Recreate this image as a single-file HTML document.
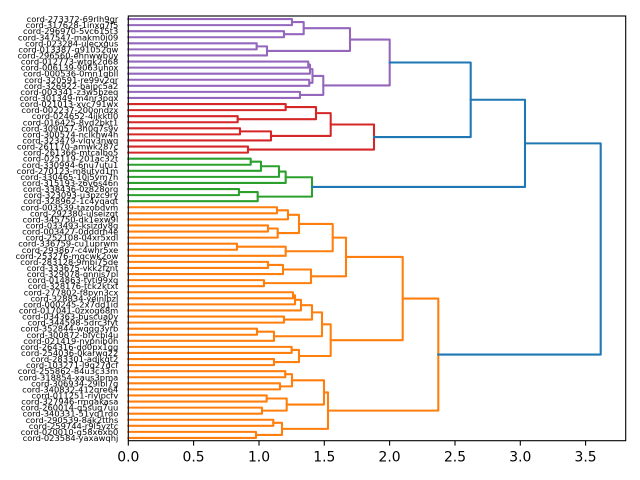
<!DOCTYPE html>
<html>
<head>
<meta charset="utf-8">
<style>
html,body{margin:0;padding:0;background:#fff;}
svg{display:block;}
.lbl{font-family:"DejaVu Sans","Liberation Sans",sans-serif;font-size:8.33px;fill:#000;text-anchor:end;}
.tk{font-family:"DejaVu Sans","Liberation Sans",sans-serif;font-size:13.9px;fill:#000;text-anchor:middle;}
.ln{fill:none;stroke-width:2.08;stroke-linejoin:round;stroke-linecap:square;}
</style>
</head>
<body>
<svg width="640" height="480" viewBox="0 0 640 480" xmlns="http://www.w3.org/2000/svg">
<rect x="0" y="0" width="640" height="480" fill="#fff"/>

<!-- purple -->
<g class="ln" stroke="#9467bd">
<path d="M128.3 19.04 H292 V25.11 H128.3"/>
<path d="M128.3 31.18 H284 V37.25 H128.3"/>
<path d="M292 22.08 H303.7 V34.22 H284"/>
<path d="M128.3 43.32 H256.7 V49.39 H128.3"/>
<path d="M256.7 46.36 H267 V55.46 H128.3"/>
<path d="M303.7 28.15 H350 V50.91 H267"/>
<path d="M128.3 61.54 H308.3 V67.61 H128.3"/>
<path d="M308.3 64.57 H310 V73.68 H128.3"/>
<path d="M128.3 79.75 H309.3 V85.82 H128.3"/>
<path d="M310 69.13 H312.5 V82.79 H309.3"/>
<path d="M128.3 91.89 H300 V97.96 H128.3"/>
<path d="M312.5 75.96 H323.3 V94.93 H300"/>
<path d="M350 39.53 H389.7 V85.44 H323.3"/>
</g>

<!-- red -->
<g class="ln" stroke="#d62728">
<path d="M128.3 104.04 H285.7 V110.11 H128.3"/>
<path d="M128.3 116.18 H237.7 V122.25 H128.3"/>
<path d="M285.7 107.07 H316 V119.21 H237.7"/>
<path d="M128.3 128.32 H240 V134.39 H128.3"/>
<path d="M240 131.36 H271 V140.46 H128.3"/>
<path d="M316 113.14 H330.7 V135.91 H271"/>
<path d="M128.3 146.54 H248 V152.61 H128.3"/>
<path d="M330.7 124.52 H374 V149.57 H248"/>
</g>

<!-- green -->
<g class="ln" stroke="#2ca02c">
<path d="M128.3 158.68 H250.7 V164.75 H128.3"/>
<path d="M250.7 161.71 H261 V170.82 H128.3"/>
<path d="M261 166.27 H279 V176.89 H128.3"/>
<path d="M279 171.58 H285.7 V182.96 H128.3"/>
<path d="M128.3 189.04 H239 V195.11 H128.3"/>
<path d="M239 192.07 H257.7 V201.18 H128.3"/>
<path d="M285.7 177.27 H312 V196.63 H257.7"/>
</g>

<!-- orange -->
<g class="ln" stroke="#ff7f0e">
<path d="M128.3 207.25 H277 V213.32 H128.3"/>
<path d="M277 210.29 H288 V219.39 H128.3"/>
<path d="M128.3 225.46 H268 V231.54 H128.3"/>
<path d="M268 228.5 H277.7 V237.61 H128.3"/>
<path d="M288 214.84 H299 V233.05 H277.7"/>
<path d="M128.3 243.68 H237 V249.75 H128.3"/>
<path d="M237 246.71 H285.7 V255.82 H128.3"/>
<path d="M299 223.95 H332.7 V251.27 H285.7"/>
<path d="M128.3 261.89 H268 V267.96 H128.3"/>
<path d="M268 264.93 H283 V274.04 H128.3"/>
<path d="M128.3 280.11 H264 V286.18 H128.3"/>
<path d="M283 269.48 H311 V283.14 H264"/>
<path d="M332.7 237.61 H346 V276.31 H311"/>
<path d="M128.3 292.25 H293 V298.32 H128.3"/>
<path d="M293 295.29 H295 V304.39 H128.3"/>
<path d="M295 299.84 H301 V310.46 H128.3"/>
<path d="M128.3 316.54 H284 V322.61 H128.3"/>
<path d="M301 305.15 H312 V319.57 H284"/>
<path d="M128.3 328.68 H257 V334.75 H128.3"/>
<path d="M257 331.71 H274 V340.82 H128.3"/>
<path d="M312 312.36 H322 V336.27 H274"/>
<path d="M128.3 346.89 H291.7 V352.96 H128.3"/>
<path d="M128.3 359.04 H274 V365.11 H128.3"/>
<path d="M291.7 349.93 H299 V362.07 H274"/>
<path d="M322 324.31 H330.7 V356 H299"/>
<path d="M346 256.96 H402.7 V340.16 H330.7"/>
<path d="M128.3 371.18 H285.3 V377.25 H128.3"/>
<path d="M128.3 383.32 H280 V389.39 H128.3"/>
<path d="M285.3 374.21 H292 V386.36 H280"/>
<path d="M128.3 395.46 H266.7 V401.54 H128.3"/>
<path d="M128.3 407.61 H262 V413.68 H128.3"/>
<path d="M266.7 398.5 H286.7 V410.64 H262"/>
<path d="M292 380.29 H324 V404.57 H286.7"/>
<path d="M128.3 419.75 H273.3 V425.82 H128.3"/>
<path d="M128.3 431.89 H256 V437.96 H128.3"/>
<path d="M273.3 422.79 H282 V434.93 H256"/>
<path d="M324 392.43 H328 V428.86 H282"/>
<path d="M402.7 298.56 H438.3 V410.64 H328"/>
</g>

<!-- blue -->
<g class="ln" stroke="#1f77b4">
<path d="M389.7 62.49 H470.7 V137.05 H374"/>
<path d="M470.7 99.77 H525 V186.95 H312"/>
<path d="M525 143.36 H600.7 V354.6 H438.3"/>
</g>

<!-- axes frame -->
<rect x="128.3" y="16" width="497.4" height="424.7" fill="none" stroke="#000" stroke-width="1.1"/>

<!-- x ticks -->
<g stroke="#000" stroke-width="1.1">
<line x1="128.3" y1="440.7" x2="128.3" y2="445.6"/>
<line x1="193.6" y1="440.7" x2="193.6" y2="445.6"/>
<line x1="259" y1="440.7" x2="259" y2="445.6"/>
<line x1="324.3" y1="440.7" x2="324.3" y2="445.6"/>
<line x1="389.6" y1="440.7" x2="389.6" y2="445.6"/>
<line x1="455" y1="440.7" x2="455" y2="445.6"/>
<line x1="520.3" y1="440.7" x2="520.3" y2="445.6"/>
<line x1="585.6" y1="440.7" x2="585.6" y2="445.6"/>
</g>
<g class="tk">
<text x="128.3" y="461.5">0.0</text>
<text x="193.6" y="461.5">0.5</text>
<text x="259" y="461.5">1.0</text>
<text x="324.3" y="461.5">1.5</text>
<text x="389.6" y="461.5">2.0</text>
<text x="455" y="461.5">2.5</text>
<text x="520.3" y="461.5">3.0</text>
<text x="585.6" y="461.5">3.5</text>
</g>

<!-- leaf labels -->
<g class="lbl">
<text x="118.3" y="22.04">cord-273372-69rlh9gr</text>
<text x="118.3" y="28.11">cord-317628-1inxq7f5</text>
<text x="118.3" y="34.18">cord-296970-5vc615t3</text>
<text x="118.3" y="40.25">cord-347547-makm0j09</text>
<text x="118.3" y="46.32">cord-023284-ulecxgus</text>
<text x="118.3" y="52.39">cord-013387-g91052qw</text>
<text x="118.3" y="58.46">cord-296560-ehnwwbuy</text>
<text x="118.3" y="64.54">cord-012773-wtgk2d68</text>
<text x="118.3" y="70.61">cord-006139-9063uhox</text>
<text x="118.3" y="76.68">cord-000536-0mn1gbll</text>
<text x="118.3" y="82.75">cord-320591-re99v2qr</text>
<text x="118.3" y="88.82">cord-326922-bajpc5a2</text>
<text x="118.3" y="94.89">cord-003341-z3w5bzeq</text>
<text x="118.3" y="100.96">cord-301349-m4nr3pqx</text>
<text x="118.3" y="107.04">cord-021013-xvc791wx</text>
<text x="118.3" y="113.11">cord-002237-200ondzx</text>
<text x="118.3" y="119.18">cord-024652-4ijkktl0</text>
<text x="118.3" y="125.25">cord-016425-8yd2bkt1</text>
<text x="118.3" y="131.32">cord-309057-3h0q7s9v</text>
<text x="118.3" y="137.39">cord-300574-nclkhw4h</text>
<text x="118.3" y="143.46">cord-323479-vlqv3nwq</text>
<text x="118.3" y="149.54">cord-261170-amwk287c</text>
<text x="118.3" y="155.61">cord-261366-mtcalbo5</text>
<text x="118.3" y="161.68">cord-025119-201ac32t</text>
<text x="118.3" y="167.75">cord-330994-6nu7utu1</text>
<text x="118.3" y="173.82">cord-270123-m8utyd1m</text>
<text x="118.3" y="179.89">cord-330465-10j5vm7h</text>
<text x="118.3" y="185.96">cord-315193-z6v6s46n</text>
<text x="118.3" y="192.04">cord-338436-0z828org</text>
<text x="118.3" y="198.11">cord-323093-u3pzc9ry</text>
<text x="118.3" y="204.18">cord-328962-1c4yqaqt</text>
<text x="118.3" y="210.25">cord-003539-tazobdvm</text>
<text x="118.3" y="216.32">cord-292380-ulseizgt</text>
<text x="118.3" y="222.39">cord-345750-dk1exw9l</text>
<text x="118.3" y="228.46">cord-033493-ksizdy8g</text>
<text x="118.3" y="234.54">cord-003427-0dddrh4e</text>
<text x="118.3" y="240.61">cord-252108-04xr5xdl</text>
<text x="118.3" y="246.68">cord-336759-cu1uprwm</text>
<text x="118.3" y="252.75">cord-293867-c4whr5xe</text>
<text x="118.3" y="258.82">cord-253276-mqcwk2ow</text>
<text x="118.3" y="264.89">cord-283128-9mbi75de</text>
<text x="118.3" y="270.96">cord-333675-vkk2fznt</text>
<text x="118.3" y="277.04">cord-329078-qnnis7pl</text>
<text x="118.3" y="283.11">cord-014863-tyti99xq</text>
<text x="118.3" y="289.18">cord-328176-tck2ktxt</text>
<text x="118.3" y="295.25">cord-277802-f8pyn3cx</text>
<text x="118.3" y="301.32">cord-328834-yeinlbzl</text>
<text x="118.3" y="307.39">cord-000245-2x7dd1id</text>
<text x="118.3" y="313.46">cord-017041-0zxog68m</text>
<text x="118.3" y="319.54">cord-034363-buscua0y</text>
<text x="118.3" y="325.61">cord-344598-5drc3fyt</text>
<text x="118.3" y="331.68">cord-352844-wqqg3yrb</text>
<text x="118.3" y="337.75">cord-300872-bfycbi4u</text>
<text x="118.3" y="343.82">cord-021419-nypnib0h</text>
<text x="118.3" y="349.89">cord-264316-do0px1gg</text>
<text x="118.3" y="355.96">cord-254036-0karwq22</text>
<text x="118.3" y="362.04">cord-283301-adjkqt2</text>
<text x="118.3" y="368.11">cord-103271-l9q27dcf</text>
<text x="118.3" y="374.18">cord-255862-84u3c33m</text>
<text x="118.3" y="380.25">cord-318854-xaus3pma</text>
<text x="118.3" y="386.32">cord-306934-29lbl7g</text>
<text x="118.3" y="392.39">cord-340832-412qre64</text>
<text x="118.3" y="398.46">cord-011251-riyipcfv</text>
<text x="118.3" y="404.54">cord-327946-rmgakasa</text>
<text x="118.3" y="410.61">cord-260014-q5sug7uu</text>
<text x="118.3" y="416.68">cord-340331-51yq1rdo</text>
<text x="118.3" y="422.75">cord-290539-8ak2tths</text>
<text x="118.3" y="428.82">cord-259744-r9l5yztc</text>
<text x="118.3" y="434.89">cord-020010-g58x6xb0</text>
<text x="118.3" y="440.96">cord-023584-yaxawqhj</text>
</g>
</svg>
</body>
</html>
